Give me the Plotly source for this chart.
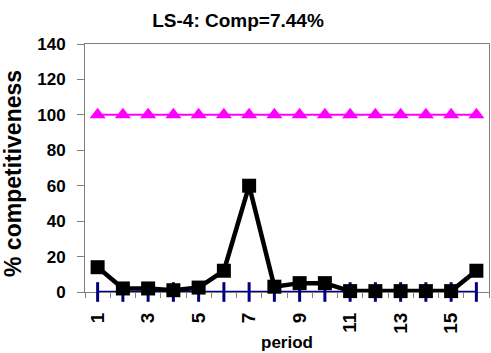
import plotly.graph_objects as go

periods = list(range(1, 17))
comp_values = [14, 2, 2, 1, 2.5, 12, 60, 3, 5, 5, 0.5, 0.5, 0.5, 0.5, 0.5, 12]
upper_values = [100] * 16
zero_values = [0] * 16
xtick_vals = [1, 3, 5, 7, 9, 11, 13, 15]
xtick_text = [str(v) for v in xtick_vals]
ytick_vals = [0, 20, 40, 60, 80, 100, 120, 140]

F = "Liberation Sans, Arial, sans-serif"
PLOT_TOP, PLOT_BOTTOM = 44, 292
H = PLOT_BOTTOM - PLOT_TOP


def py(pixel_y):
    return (PLOT_BOTTOM - pixel_y) / H


fig = go.Figure()
fig.add_trace(go.Scatter(x=periods, y=upper_values, mode="lines+markers",
                         line=dict(color="#FF00FF", width=2), cliponaxis=False,
                         marker=dict(symbol="triangle-up", size=14, color="#FF00FF")))
fig.add_trace(go.Scatter(x=periods, y=zero_values, mode="lines+markers",
                         line=dict(color="#000080", width=2.5), cliponaxis=False,
                         marker=dict(symbol="line-ns", size=14, line=dict(color="#000080", width=3))))
fig.add_trace(go.Scatter(x=periods, y=comp_values, mode="lines+markers",
                         line=dict(color="black", width=4.5), cliponaxis=False,
                         marker=dict(symbol="square", size=14, color="black")))

fig.update_layout(
    width=491, height=353,
    margin=dict(l=85, r=2, t=PLOT_TOP, b=353 - PLOT_BOTTOM),
    paper_bgcolor="white", plot_bgcolor="white",
    showlegend=False,
    title=dict(text="<b>LS-4: Comp=7.44%</b>", x=238/491, xanchor="center", xref="container",
               y=1 - 20/353, yanchor="middle",
               font=dict(family=F, size=19, color="black")),
    font=dict(family=F, color="black"),
    annotations=[
        dict(text="<b>% competitiveness</b>", textangle=-90, xref="paper", yref="paper",
             x=-(85 - 13) / 404, y=py(174), xanchor="center", yanchor="middle", showarrow=False,
             font=dict(family=F, size=23, color="black")),
        dict(text="<b>period</b>", xref="paper", yref="paper",
             x=0.5, y=py(331), xanchor="center", yanchor="top", showarrow=False,
             font=dict(family=F, size=17, color="black")),
    ],
)
fig.update_xaxes(range=[0.5, 16.5], tickmode="array", tickvals=xtick_vals,
                 ticktext=["<b>%s</b>" % t for t in xtick_text],
                 tickangle=-90, ticks="", ticklen=0, showgrid=False, zeroline=False,
                 showline=True, linecolor="#808080", linewidth=1, mirror=True,
                 layer="below traces", ticklabelstandoff=12,
                 tickfont=dict(family=F, size=19, color="black"),
                 minor=dict(tickmode="array", tickvals=[i + 0.5 for i in range(0, 17)], ticks="outside",
                            ticklen=5, tickcolor="#808080", showgrid=False))
fig.update_yaxes(range=[0, 140], tickmode="array", tickvals=ytick_vals,
                 ticktext=["<b>%d</b>" % v for v in ytick_vals],
                 ticks="outside", ticklen=7, tickcolor="#808080", showgrid=False, zeroline=False,
                 showline=True, linecolor="#808080", linewidth=1, mirror=True,
                 layer="below traces", ticklabelstandoff=8,
                 tickfont=dict(family=F, size=17, color="black"))

fig.write_html("out.html")
